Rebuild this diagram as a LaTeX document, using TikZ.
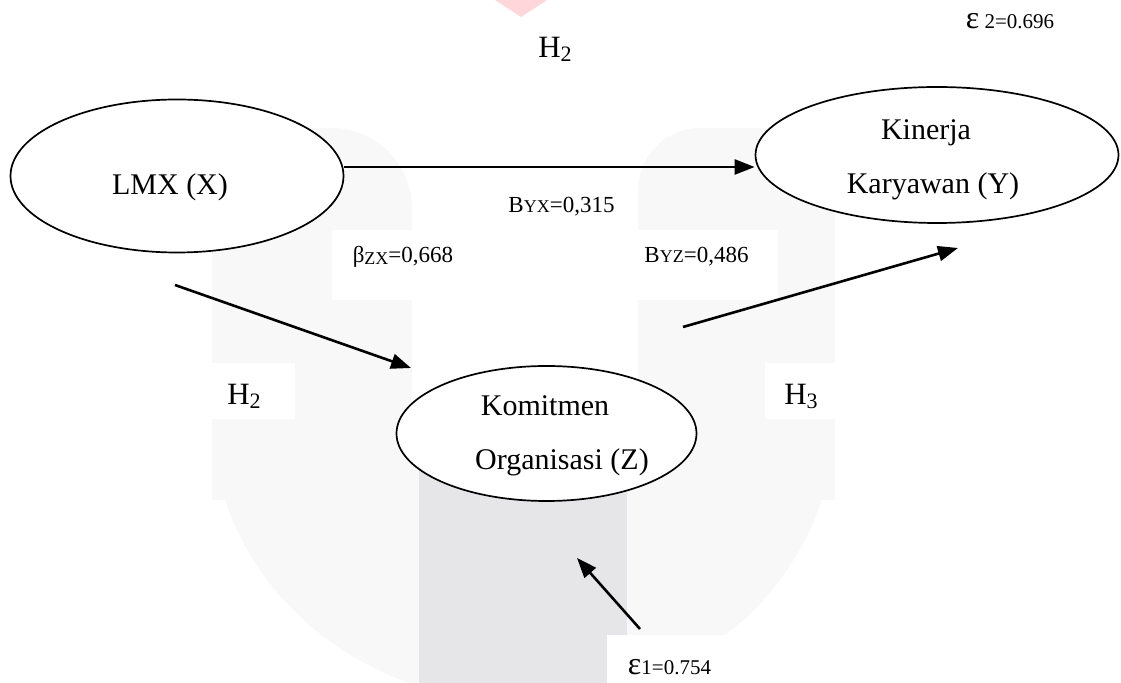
\documentclass[tikz,border=0pt]{standalone}
\usepackage{fontspec}
\setmainfont{Liberation Serif}
\usetikzlibrary{shapes.geometric,arrows.meta}
\definecolor{wmlight}{HTML}{F8F8F8}
\definecolor{wmgray}{HTML}{E6E6E9}
\definecolor{wmpink}{HTML}{FFD6DA}
\begin{document}
\begin{tikzpicture}[x=0.5pt,y=-0.5pt,
  oval/.style={ellipse,draw,line width=0.85pt,fill=white,inner sep=0pt},
  arr/.style={line width=1.3pt,-{Triangle[length=10pt,width=7.5pt]}},
  big/.style={font=\fontsize{15}{18}\selectfont,anchor=base,inner sep=0pt},
  small/.style={font=\fontsize{11.5}{14}\selectfont,anchor=base,inner sep=0pt},
  hyp/.style={font=\fontsize{15.5}{18}\selectfont,anchor=base,inner sep=0pt},
  eps/.style={font=\fontsize{10.5}{13}\selectfont,anchor=base,inner sep=0pt}]
\useasboundingbox (0,0) rectangle (1121,683);
% background watermark
\fill[wmpink] (495,0) -- (547,0) -- (521,17) -- cycle;
\fill[wmlight] (212,500) -- (212,128) -- (332,128) .. controls (376,128) and (412,164) .. (412,208) -- (412,500) -- cycle;
\fill[wmlight] (638,500) -- (638,190) .. controls (638,156) and (666,128) .. (700,128) -- (835,128) -- (835,500) -- cycle;
\begin{scope}
  \clip (0,418) rectangle (1121,683);
  \fill[wmlight] (523.5,418) ellipse [x radius=155.75pt, y radius=142.5pt];
\end{scope}
\fill[wmgray] (419,440) rectangle (627,683);
\fill[white] (332,230) rectangle (500,300);
\fill[white] (600,230) rectangle (778,300);
\fill[white] (200,363) rectangle (295,419);
\fill[white] (765,363) rectangle (900,419);
\fill[white] (607,635) rectangle (760,683);
% nodes
\node[oval, minimum width=166.5pt, minimum height=76.5pt] (lmx) at (177,176) {};
\node[oval, minimum width=181.5pt, minimum height=68pt] (kin) at (937,155) {};
\node[oval, minimum width=150pt, minimum height=67.5pt] (kom) at (546.5,433.5) {};
\node[big] (lmxt) at (170,195) {LMX (X)};
\node[big] (kint1) at (926,140) {Kinerja};
\node[big] (kint2) at (933,194) {Karyawan (Y)};
\node[big] (komt1) at (545,416) {Komitmen};
\node[big] (komt2) at (562,470) {Organisasi (Z)};
% connectors
\coordinate (zxs) at (175,285);
\coordinate (zxe) at (411,368);
\coordinate (yzs) at (683,327);
\coordinate (yze) at (958,248);
\coordinate (e1s) at (640,629);
\coordinate (e1e) at (577,558);
\draw[arr] ([yshift=4.5pt]lmx.east) -- ([yshift=-6pt]kin.west);
\draw[arr] (zxs) -- (zxe);
\draw[arr] (yzs) -- (yze);
\draw[arr] (e1s) -- (e1e);
% labels
\node[small] (byx) at (561.5,213) {B{\fontsize{9}{11}\selectfont YX}=0,315};
\node[small] (bzx) at (403,263) {β\raisebox{-1pt}{\fontsize{9}{11}\selectfont ZX}=0,668};
\node[small] (byz) at (696.5,263) {B{\fontsize{9}{11}\selectfont YZ}=0,486};
\node[hyp] (h2top) at (555,58) {H\raisebox{-2pt}{\fontsize{11}{13}\selectfont 2}};
\node[hyp] (h2) at (244,405) {H\raisebox{-2pt}{\fontsize{11}{13}\selectfont 2}};
\node[hyp] (h3) at (801,405) {H\raisebox{-2pt}{\fontsize{11}{13}\selectfont 3}};
\node[eps] (e2) at (1010,29) {{\fontsize{16}{18}\selectfont ε} 2=0.696};
\node[eps] (e1) at (669.5,675) {{\fontsize{16}{18}\selectfont ε}1=0.754};
\end{tikzpicture}
\end{document}
